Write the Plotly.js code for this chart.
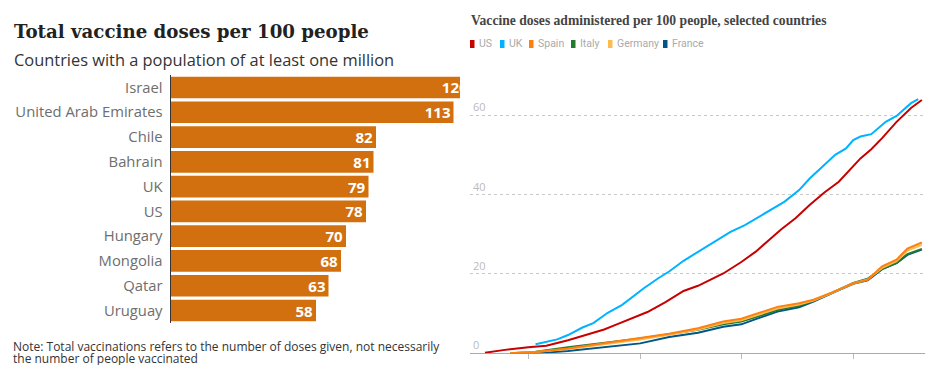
<!DOCTYPE html>
<html>
<head>
<meta charset="utf-8">
<script src="https://cdn.plot.ly/plotly-3.0.1.min.js"></script>
<style>
  html, body { margin: 0; padding: 0; background: #fff; }
  #chart { width: 927px; height: 365px; }
</style>
</head>
<body>
<div id="chart"></div>
<script>
// ---- Left panel: total vaccine doses per 100 people ----
const countries = ["Israel", "United Arab Emirates", "Chile", "Bahrain", "UK", "US", "Hungary", "Mongolia", "Qatar", "Uruguay"];
const dosesPer100 = [120, 113, 82, 81, 79, 78, 70, 68, 63, 58];

// ---- Right panel: doses administered per 100 people, selected countries ----
const usDates = ["2020-12-20","2020-12-25","2021-01-01","2021-01-06","2021-01-12","2021-01-17","2021-01-22","2021-01-25","2021-01-31","2021-02-03","2021-02-08","2021-02-13","2021-02-17","2021-02-20","2021-02-24","2021-03-01","2021-03-05","2021-03-09","2021-03-12","2021-03-16","2021-03-20","2021-03-24","2021-03-28","2021-04-03","2021-04-06","2021-04-09","2021-04-13","2021-04-17","2021-04-20"];
const usValues = [0.15, 0.8, 1.5, 1.9, 3.3, 4.6, 6.0, 7.1, 9.3, 10.4, 12.9, 15.7, 17.0, 18.3, 20.1, 23.0, 25.6, 28.8, 31.2, 34.0, 37.4, 40.5, 43.2, 49.1, 51.4, 54.2, 58.3, 61.8, 63.8];

const ukDates = ["2021-01-03","2021-01-09","2021-01-12","2021-01-16","2021-01-19","2021-01-23","2021-01-27","2021-01-30","2021-02-02","2021-02-06","2021-02-09","2021-02-13","2021-02-17","2021-02-20","2021-02-26","2021-03-02","2021-03-06","2021-03-09","2021-03-13","2021-03-17","2021-03-20","2021-03-23","2021-03-27","2021-03-30","2021-04-01","2021-04-03","2021-04-06","2021-04-10","2021-04-13","2021-04-17","2021-04-19"];
const ukValues = [2.3, 3.5, 4.6, 6.5, 7.6, 10.2, 12.2, 14.3, 16.4, 18.9, 20.6, 23.3, 25.6, 27.3, 30.6, 32.3, 34.4, 36.1, 38.2, 41.1, 44.1, 46.6, 50.0, 51.6, 53.7, 54.6, 55.2, 58.3, 59.8, 63.0, 64.0];

const euDates = ["2020-12-27","2021-01-03","2021-01-12","2021-01-22","2021-02-01","2021-02-09","2021-02-17","2021-02-24","2021-03-01","2021-03-05","2021-03-11","2021-03-17","2021-03-21","2021-03-26","2021-04-01","2021-04-05","2021-04-09","2021-04-13","2021-04-16","2021-04-20"];
const spainValues   = [0, 0.3, 1.2, 2.5, 3.7, 4.9, 6.3, 8.0, 8.7, 9.9, 11.7, 12.6, 13.5, 15.3, 17.6, 18.5, 21.9, 23.6, 26.4, 27.9];
const germanyValues = [0, 0.3, 1.1, 2.3, 3.5, 4.7, 6.0, 7.6, 8.3, 9.5, 11.3, 12.3, 13.3, 15.2, 17.6, 18.6, 21.5, 23.2, 25.9, 27.3];
const italyValues   = [0, 0.4, 1.5, 2.6, 3.7, 4.8, 5.9, 7.3, 8.0, 9.1, 10.9, 12.0, 13.2, 15.2, 17.7, 18.8, 21.2, 22.8, 25.0, 26.3];
const franceValues  = [0, 0.0, 0.6, 1.5, 2.5, 4.1, 5.2, 6.7, 7.3, 8.6, 10.5, 11.6, 13.0, 15.1, 17.5, 18.4, 21.2, 22.7, 24.8, 26.1];

const legendNames = ["US", "UK", "Spain", "Italy", "Germany", "France"];
const lineColors = {US: "#c70000", UK: "#00b2ff", Spain: "#ff7f0f", Italy: "#237a2e", Germany: "#ffbb50", France: "#005689"};

const W = 927, H = 365;
const px = v => v / W;
const py = v => 1 - v / H;

const barTrace = {
  type: "bar", orientation: "h",
  x: dosesPer100, y: countries,
  xaxis: "x", yaxis: "y",
  marker: { color: "#d2700f", line: { width: 0 } },
  text: dosesPer100.map(String),
  textposition: "inside", insidetextanchor: "end", textangle: 0, constraintext: "none",
  textfont: { family: "Open Sans", size: 15, color: "#ffffff", weight: "bold" },
  cliponaxis: true, hoverinfo: "skip", showlegend: false
};

function line(name, dates, vals) {
  return {
    type: "scatter", mode: "lines", name: name,
    x: dates, y: vals, xaxis: "x2", yaxis: "y2",
    line: { color: lineColors[name], width: 2 },
    hoverinfo: "skip", showlegend: false
  };
}

const data = [
  barTrace,
  line("France", euDates, franceValues),
  line("Italy", euDates, italyValues),
  line("Germany", euDates, germanyValues),
  line("Spain", euDates, spainValues),
  line("US", usDates, usValues),
  line("UK", ukDates, ukValues)
];

// legend (right panel) built from names
const legendSwatchX = [470, 500, 529, 571, 608, 663];
const annotations = [
  { text: "Total vaccine doses per 100 people", x: px(12), y: py(32), xref: "paper", yref: "paper",
    xanchor: "left", yanchor: "middle", showarrow: false,
    font: { family: "DejaVu Serif", size: 18.2, color: "#222", weight: "bold" } },
  { text: "Countries with a population of at least one million", x: px(12), y: py(59), xref: "paper", yref: "paper",
    xanchor: "left", yanchor: "middle", showarrow: false,
    font: { family: "Open Sans", size: 16.4, color: "#333" } },
  { text: "Note: Total vaccinations refers to the number of doses given, not necessarily", x: px(11), y: py(346.5), xref: "paper", yref: "paper",
    xanchor: "left", yanchor: "middle", showarrow: false,
    font: { family: "Open Sans", size: 12, color: "#333" } },
  { text: "the number of people vaccinated", x: px(11), y: py(358.5), xref: "paper", yref: "paper",
    xanchor: "left", yanchor: "middle", showarrow: false,
    font: { family: "Open Sans", size: 12, color: "#333" } },
  { text: "Vaccine doses administered per 100 people, selected countries", x: px(469), y: py(20), xref: "paper", yref: "paper",
    xanchor: "left", yanchor: "middle", showarrow: false,
    font: { family: "Liberation Serif", size: 13.6, color: "#444", weight: "bold" } }
];
const shapes = [];
legendNames.forEach((n, i) => {
  const x0 = legendSwatchX[i];
  shapes.push({ type: "rect", xref: "paper", yref: "paper",
    x0: px(x0), x1: px(x0 + 4.5), y0: py(48), y1: py(40),
    fillcolor: lineColors[n], line: { width: 0 } });
  annotations.push({ text: n, x: px(x0 + 6.5), y: py(44), xref: "paper", yref: "paper",
    xanchor: "left", yanchor: "middle", showarrow: false,
    font: { family: "Roboto", size: 10.5, color: "#aaa" } });
});

const layout = {
  width: W, height: H,
  margin: { l: 0, r: 0, t: 0, b: 0, pad: 0 },
  paper_bgcolor: "#fff", plot_bgcolor: "rgba(0,0,0,0)",
  showlegend: false, bargap: 0.125,
  xaxis: { domain: [px(171), px(460)], range: [0, 115.6], visible: false, fixedrange: true },
  yaxis: { domain: [py(322.9), py(75.1)], type: "category", autorange: "reversed",
    showline: true, linecolor: "#333", linewidth: 1.5, ticks: "", ticklabelstandoff: 4,
    showgrid: false, zeroline: false,
    tickfont: { family: "Open Sans", size: 14.8, color: "#6e6e6e" } },
  xaxis2: { anchor: "y2", domain: [px(470), px(925)], type: "date",
    range: ["2020-12-15 20:24", "2021-04-20 21:00"],
    tickvals: ["2021-01-01", "2021-02-01", "2021-03-01", "2021-04-01"],
    ticktext: ["2021", "February", "March", "April"],
    ticks: "outside", ticklen: 5, tickcolor: "#bbb", showgrid: false, showline: false, zeroline: false,
    tickfont: { family: "Open Sans", size: 11, color: "#999" } },
  yaxis2: { anchor: "x2", domain: [py(353.3), py(75)], range: [0, 70.1],
    tickvals: [0, 20, 40, 60], ticks: "", ticklabelposition: "inside top",
    showgrid: true, gridcolor: "#c8c8c8", griddash: "dot", gridwidth: 1,
    zeroline: true, zerolinecolor: "#aaa", zerolinewidth: 1, showline: false,
    tickfont: { family: "Open Sans", size: 11, color: "#bbb" } },
  annotations: annotations,
  shapes: shapes
};

Plotly.newPlot("chart", data, layout, { staticPlot: true, displayModeBar: false });
</script>
</body>
</html>
